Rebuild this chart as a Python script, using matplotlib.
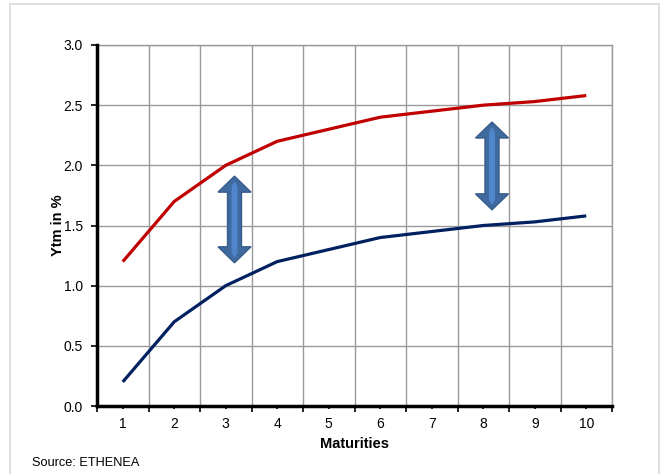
import numpy as np
import matplotlib.pyplot as plt
from matplotlib.patches import Polygon, Rectangle
from matplotlib.ticker import FixedLocator, MultipleLocator, FormatStrFormatter

# Yield curves (Ytm in %) by maturity
maturities = [1, 2, 3, 4, 5, 6, 7, 8, 9, 10]
ytm_upper = [1.2, 1.7, 2.0, 2.2, 2.3, 2.4, 2.45, 2.5, 2.53, 2.58]
ytm_lower = [0.2, 0.7, 1.0, 1.2, 1.3, 1.4, 1.45, 1.5, 1.53, 1.58]

# double arrows showing the shift between the curves
arrow_x = [3.17, 8.17]
arrow_lo = [1.19, 1.63]
arrow_hi = [1.91, 2.36]

plt.rcParams['font.family'] = ['Liberation Sans', 'DejaVu Sans']

fig = plt.figure(figsize=(6.6, 4.74), dpi=100)
ax = fig.add_axes([97 / 660, 68 / 474, 515 / 660, 361 / 474])

ax.plot(maturities, ytm_upper, color='#C00000', lw=2.3, solid_capstyle='butt', zorder=3)
ax.plot(maturities, ytm_lower, color='#002060', lw=2.3, solid_capstyle='butt', zorder=3)

ax.set_xlim(0.5, 10.5)
ax.set_ylim(0, 3.0)
ax.yaxis.set_major_locator(MultipleLocator(0.5))
ax.yaxis.set_major_formatter(FormatStrFormatter('%.1f'))

# category axis: ticks and gridlines on the boundaries, labels in the middle
bounds = np.arange(0.5, 11, 1.0)
ax.xaxis.set_major_locator(FixedLocator(bounds))
ax.xaxis.set_minor_locator(FixedLocator(maturities))
ax.set_xticklabels([''] * len(bounds))
ax.set_xticklabels([str(m) for m in maturities], minor=True)
ax.tick_params(axis='x', which='major', length=4, width=1.2, color='black')
ax.tick_params(axis='x', which='minor', length=2, width=1.2, color='black', pad=6, labelsize=10)
ax.tick_params(axis='y', length=4, width=1.2, pad=6, labelsize=10)

ax.grid(True, which='major', color='#9A9A9A', lw=1)
ax.set_axisbelow(True)
for s in ['top', 'right']:
    ax.spines[s].set_color('#9A9A9A')
    ax.spines[s].set_linewidth(1)
for s in ['left', 'bottom']:
    ax.spines[s].set_color('black')
    ax.spines[s].set_linewidth(2.5)
    ax.spines[s].set_zorder(4)

ax.set_xlabel('Maturities', fontsize=10.5, fontweight='bold', labelpad=4)
ax.set_ylabel('Ytm in %', fontsize=10.5, fontweight='bold', labelpad=-1)

# arrows drawn in pixel space so the heads keep their shape
fig.canvas.draw()
head_len, head_w, shaft_w, stripe_w = 16, 33, 14, 6
for x, lo, hi in zip(arrow_x, arrow_lo, arrow_hi):
    cx, y0 = ax.transData.transform((x, lo))
    _, y1 = ax.transData.transform((x, hi))
    hw, sw = head_w / 2, shaft_w / 2
    pts = [(cx, y1), (cx + hw, y1 - head_len), (cx + sw, y1 - head_len),
           (cx + sw, y0 + head_len), (cx + hw, y0 + head_len), (cx, y0),
           (cx - hw, y0 + head_len), (cx - sw, y0 + head_len),
           (cx - sw, y1 - head_len), (cx - hw, y1 - head_len)]
    fig.add_artist(Polygon(pts, closed=True, transform=None, facecolor='#3F6A9F',
                           edgecolor='#385D8A', lw=1, zorder=5))
    st = stripe_w / 2
    inner = [(cx, y1 - 5), (cx + st, y1 - 10), (cx + st, y0 + 10), (cx, y0 + 5),
             (cx - st, y0 + 10), (cx - st, y1 - 10)]
    fig.add_artist(Polygon(inner, closed=True, transform=None, facecolor='#4F86CB',
                           edgecolor='none', zorder=6))

fig.text(32 / 660, 1 - 463 / 474, 'Source: ETHENEA', fontsize=9.2, va='center', ha='left')

fig.add_artist(Rectangle((10 / 660, -0.02), 649 / 660, 0.02 + 470 / 474,
                         transform=fig.transFigure, fill=False, edgecolor='#D9D9D9',
                         lw=1.2, clip_on=False))

fig.savefig('out.png', dpi=100)
